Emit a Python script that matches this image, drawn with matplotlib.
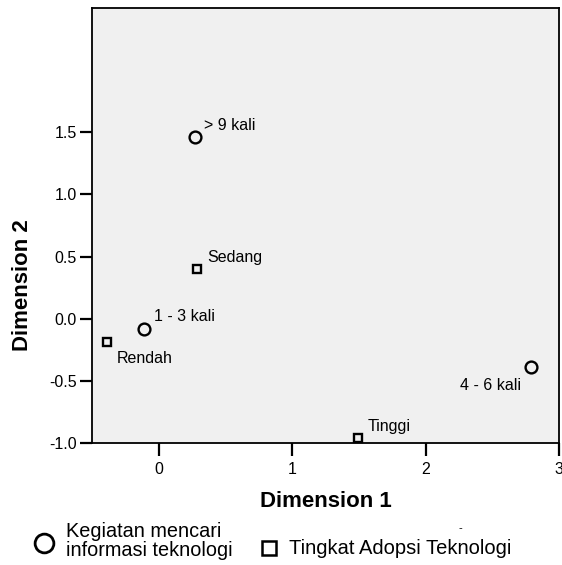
import matplotlib
matplotlib.use('Agg')
import matplotlib.pyplot as plt

plt.rcParams['font.family'] = ['Liberation Sans', 'DejaVu Sans']

# Kegiatan mencari informasi teknologi (circles)
keg_labels = ['> 9 kali', '1 - 3 kali', '4 - 6 kali']
keg_x = [0.27, -0.11, 2.79]
keg_y = [1.46, -0.08, -0.39]

# Tingkat Adopsi Teknologi (squares)
adop_labels = ['Sedang', 'Rendah', 'Tinggi']
adop_x = [0.29, -0.39, 1.49]
adop_y = [0.40, -0.19, -0.96]

x_ticks = [0, 1, 2, 3]
y_ticks = [-1.0, -0.5, 0.0, 0.5, 1.0, 1.5]

fig = plt.figure(figsize=(5.62, 5.65), dpi=100)
ax = fig.add_axes([0.1637, 0.2159, 0.831, 0.770])
ax.set_facecolor('#f0f0f0')

ax.plot(keg_x, keg_y, 'o', ms=8.5, mfc='none', mec='black', mew=1.7, clip_on=False)
ax.plot(adop_x, adop_y, 's', ms=6, mfc='none', mec='black', mew=1.7, clip_on=False)

# label offsets in points (dx, dy, ha, va)
keg_off = [(7, 3, 'left', 'bottom'), (7, 3, 'left', 'bottom'), (-7, -8, 'right', 'top')]
adop_off = [(7, 3, 'left', 'bottom'), (7, -6, 'left', 'top'), (7, 3, 'left', 'bottom')]
for lab, x, y, (dx, dy, ha, va) in zip(keg_labels, keg_x, keg_y, keg_off):
    ax.annotate(lab, (x, y), xytext=(dx, dy), textcoords='offset points',
                ha=ha, va=va, fontsize=11.5)
for lab, x, y, (dx, dy, ha, va) in zip(adop_labels, adop_x, adop_y, adop_off):
    ax.annotate(lab, (x, y), xytext=(dx, dy), textcoords='offset points',
                ha=ha, va=va, fontsize=11.5)

ax.set_xlim(-0.5, 3.0)
ax.set_ylim(-1.0, 2.5)
ax.set_xticks(x_ticks)
ax.set_yticks(y_ticks)
ax.set_xticklabels([str(t) for t in x_ticks])
ax.set_yticklabels(['%.1f' % t for t in y_ticks])
ax.tick_params(axis='x', direction='out', length=9, width=1.6, labelsize=11.5, pad=5)
ax.tick_params(axis='y', direction='out', length=9, width=1.6, labelsize=11.5, pad=2)
for s in ax.spines.values():
    s.set_linewidth(1.3)

ax.set_xlabel('Dimension 1', fontsize=16, fontweight='bold', labelpad=10)
ax.set_ylabel('Dimension 2', fontsize=16, fontweight='bold')
# SPSS centres the y title on the tick range, not on the whole axis
ax.yaxis.set_label_coords(-0.126, 0.363)

# legend
fig.lines.append(plt.Line2D([44 / 562], [1 - 543 / 565], marker='o', ms=13.5, mfc='none',
                            mec='black', mew=2.0, transform=fig.transFigure))
fig.text(66 / 562, 1 - 541 / 565, 'Kegiatan mencari\ninformasi teknologi',
         ha='left', va='center', fontsize=14.3, linespacing=0.98)
fig.lines.append(plt.Line2D([269 / 562], [1 - 548 / 565], marker='s', ms=9.5, mfc='none',
                            mec='black', mew=1.8, transform=fig.transFigure))
fig.text(289 / 562, 1 - 549 / 565, 'Tingkat Adopsi Teknologi',
         ha='left', va='center', fontsize=14.5)
fig.text(460 / 562, 1 - 528 / 565, '-', ha='center', va='center', fontsize=8)

fig.savefig('out.png', dpi=100, facecolor='white')
